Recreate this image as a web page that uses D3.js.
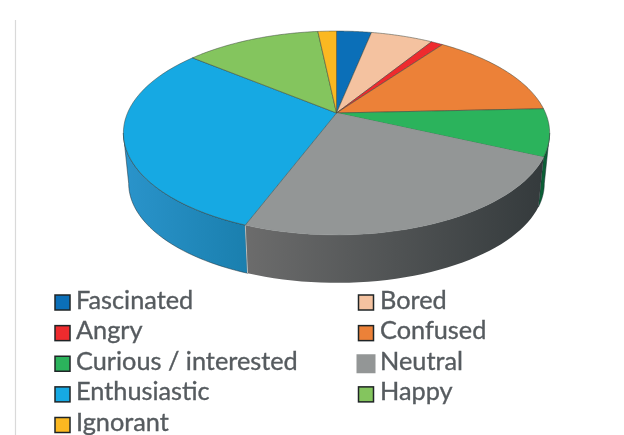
<!DOCTYPE html>
<html><head><meta charset="utf-8">
<script src="https://cdn.jsdelivr.net/npm/d3@7"></script>
<style>html,body{margin:0;padding:0;background:#fff}svg{display:block;filter:blur(.55px)}</style>
</head><body><svg id="c" width="624" height="435"></svg>
<script>
const categories = ["Fascinated","Bored","Angry","Confused","Curious / interested","Neutral","Enthusiastic","Happy","Ignorant"];
const values = [3.2,5.7,1.1,14.3,7.5,24,30.1,12.4,1.7];
const colors = ["#0b6fb8","#f4c2a0","#ee2b2e","#ec8138","#2bb35c","#939696","#16a9e3","#84c55e","#fbb821"];
const wallLeft = ["#0b6fb8","#f4c2a0","#ee2b2e","#ec8138","#0b5f35","#6c6c6c","#2a94cb","#84c55e","#fbb821"];
const wallRight = ["#0b6fb8","#f4c2a0","#ee2b2e","#ec8138","#0b5f35","#343a3c","#1a7fae","#84c55e","#fbb821"];
const legendOrder = [0,1,2,3,4,5,6,7,8];

const svg = d3.select("#c");
const defs = svg.append("defs");
const cx = 336.5, cy = 113, A = 209, B = 98, k = 0.196, depth = 51, shrink = 0.975;
const project = (a, bottom) => {
  const u = Math.sin(a), v = -Math.cos(a), w = 1 - k*v, s = bottom ? shrink : 1;
  return [cx + s*A*u/w, cy + (bottom ? depth : 0) + s*B*v/w];
};
const samples = (a0, a1) => d3.range(0, 41).map(i => a0 + (a1-a0)*i/40);
const line = d3.line();
const pie = d3.pie().sort(null).value(d => d);
const arcs = pie(values);

svg.append("line").attr("x1",15.5).attr("x2",15.5).attr("y1",20).attr("y2",435)
  .attr("stroke","#d9d9d9").attr("stroke-width",1.2);

// side wall, limited to the part of the rim that faces the viewer
const visFrom = 101.3*Math.PI/180, visTo = 258.7*Math.PI/180;
arcs.forEach((d,i) => {
  const a0 = Math.max(d.startAngle, visFrom), a1 = Math.min(d.endAngle, visTo);
  if (a1 <= a0) return;
  const top = samples(a0,a1).map(a => project(a,false));
  const bot = samples(a0,a1).map(a => project(a,true)).reverse();
  const xs = top.concat(bot).map(p => p[0]);
  const g = defs.append("linearGradient").attr("id","w"+i).attr("gradientUnits","userSpaceOnUse")
    .attr("x1",d3.min(xs)).attr("x2",d3.max(xs)).attr("y1",0).attr("y2",0);
  g.append("stop").attr("offset",0).attr("stop-color",wallLeft[i]);
  g.append("stop").attr("offset",1).attr("stop-color",wallRight[i]);
  svg.append("path").attr("d",line(top.concat(bot))+"Z").attr("fill",`url(#w${i})`)
    .attr("stroke",i===5?"none":"#1c2a33").attr("stroke-width",.5);
});
// light seam between walls
const seam = arcs[5].endAngle;
svg.append("line").attr("x1",project(seam,false)[0]).attr("y1",project(seam,false)[1])
  .attr("x2",project(seam,true)[0]).attr("y2",project(seam,true)[1])
  .attr("stroke","#b9bdbd").attr("stroke-width",1);

// top face
svg.selectAll("path.top").data(arcs).join("path").attr("class","top")
  .attr("d",d => line([[cx,cy]].concat(samples(d.startAngle,d.endAngle).map(a => project(a,false))))+"Z")
  .attr("fill",(d,i) => colors[i])
  .attr("stroke",(d,i) => i===5 ? "#8b8e8e" : "#3a443c")
  .attr("stroke-width",.5).attr("stroke-linejoin","round");

// legend
const swatchY = d3.scaleLinear().domain([0,4]).range([302.5,425]);
const baseY = d3.scaleLinear().domain([0,4]).range([309,430.5]);
const colSwatch = d3.scaleOrdinal().domain([0,1]).range([55,358.5]);
const colText = d3.scaleOrdinal().domain([0,1]).range([76,380]);
const items = svg.selectAll("g.leg").data(legendOrder).join("g").attr("class","leg");
items.append("rect")
  .attr("x",i => colSwatch(i%2) - (i===5?2:0))
  .attr("y",i => swatchY(Math.floor(i/2)) - 7.5 - (i===5?2:0))
  .attr("width",i => i===5?19:15).attr("height",i => i===5?19:15)
  .attr("fill",i => colors[i])
  .attr("stroke",i => i===5?"none":"#1f2426").attr("stroke-width",1.5);
items.append("text")
  .attr("x",i => colText(i%2))
  .attr("y",i => baseY(Math.floor(i/2)))
  .attr("font-family","Lato").attr("font-size",25.3).attr("fill","#565b5f")
  .attr("stroke","#565b5f").attr("stroke-width",.35)
  .text(i => categories[i]);
</script></body></html>
